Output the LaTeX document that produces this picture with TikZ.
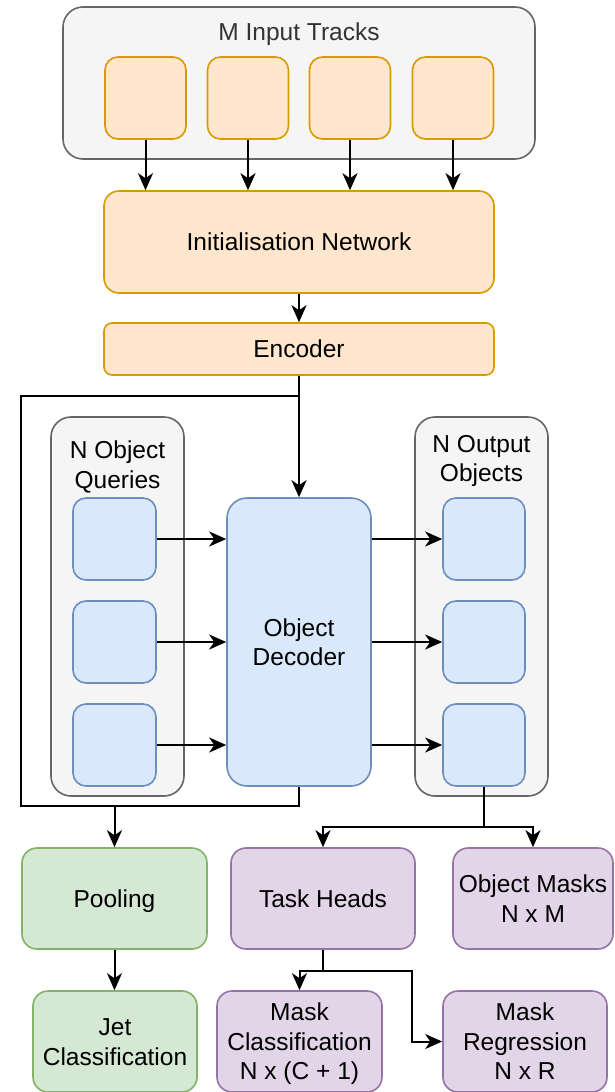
\documentclass[tikz,border=0pt]{standalone}
\usepackage{fontspec}
\setmainfont{Liberation Sans}
\usetikzlibrary{arrows.meta,calc}

\definecolor{orangefill}{HTML}{FFE6CC}
\definecolor{orangeline}{HTML}{D79B00}
\definecolor{bluefill}{HTML}{DAE8FC}
\definecolor{blueline}{HTML}{6C8EBF}
\definecolor{greenfill}{HTML}{D5E8D4}
\definecolor{greenline}{HTML}{82B366}
\definecolor{purplefill}{HTML}{E1D5E7}
\definecolor{purpleline}{HTML}{9673A6}
\definecolor{greyfill}{HTML}{F5F5F5}
\definecolor{greyline}{HTML}{666666}
\definecolor{greytext}{HTML}{333333}

\tikzset{
  % text box sized so the lines sit evenly about the node centre
  txt/.style={font=\fontsize{24.5}{29.5}\selectfont, align=center, inner sep=0pt,
    text height=24.3pt, text depth=6.5pt},
  twolines/.style={text height=53.8pt, text depth=6.5pt},
  threelines/.style={text height=83.3pt, text depth=6.5pt},
  blk/.style={draw, line width=1.6pt, inner sep=0pt, txt},
  orangebox/.style={blk, fill=orangefill, draw=orangeline},
  bluebox/.style={blk, fill=bluefill, draw=blueline},
  greenbox/.style={blk, fill=greenfill, draw=greenline},
  purplebox/.style={blk, fill=purplefill, draw=purpleline},
  groupbox/.style={blk, fill=greyfill, draw=greyline, rounded corners=20pt},
  sz/.style 2 args={minimum width=#1pt, minimum height=#2pt},
  link/.style={line width=2pt, -{Stealth[length=17pt,width=15pt,inset=5pt]}},
  wire/.style={line width=2pt},
}

\begin{document}
\begin{tikzpicture}[x=1pt,y=-1pt]
\useasboundingbox (0,0) rectangle (614,1092);

% input tracks
\node[groupbox, sz={472}{152}] (tracks) at (299,83) {};
\node[txt, text=greytext] (trackslabel) at (299,32) {M Input Tracks};
\node[orangebox, rounded corners=13pt, sz={81}{82}] (t1) at (145.5,98) {};
\node[orangebox, rounded corners=13pt, sz={81}{82}] (t2) at (248,98) {};
\node[orangebox, rounded corners=13pt, sz={81}{82}] (t3) at (350,98) {};
\node[orangebox, rounded corners=13pt, sz={81}{82}] (t4) at (453,98) {};

\node[orangebox, rounded corners=15pt, sz={390}{102}] (init) at (299,242) {Initialisation Network};
\node[orangebox, rounded corners=8pt, sz={390}{52}] (enc) at (299,349) {Encoder};

% object queries and outputs
\node[groupbox, sz={133}{379}] (queries) at (117.5,606.5) {};
\node[txt, twolines] (querieslabel) at (117.5,464.5) {N Object\\Queries};
\node[bluebox, rounded corners=13pt, sz={83}{82}] (q1) at (114.5,539) {};
\node[bluebox, rounded corners=13pt, sz={83}{82}] (q2) at (114.5,642) {};
\node[bluebox, rounded corners=13pt, sz={83}{82}] (q3) at (114.5,745) {};

\node[bluebox, twolines, rounded corners=20pt, sz={144}{288}] (dec) at (299,642) {Object\\Decoder};

\node[groupbox, sz={133}{379}] (outputs) at (481.5,606.5) {};
\node[txt, twolines] (outputslabel) at (481.5,458) {N Output\\Objects};
\node[bluebox, rounded corners=13pt, sz={82}{82}] (o1) at (484,539) {};
\node[bluebox, rounded corners=13pt, sz={82}{82}] (o2) at (484,642) {};
\node[bluebox, rounded corners=13pt, sz={82}{82}] (o3) at (484,745) {};

% heads
\node[greenbox, rounded corners=15pt, sz={185}{101}] (pool) at (114.5,898.5) {Pooling};
\node[purplebox, rounded corners=15pt, sz={184}{101}] (heads) at (323,898.5) {Task Heads};
\node[purplebox, twolines, rounded corners=15pt, sz={160}{101}] (masks) at (533,898.5) {Object Masks\\N x M};
\node[greenbox, twolines, rounded corners=15pt, sz={164}{101}] (jet) at (115,1041.5) {Jet\\Classification};
\node[purplebox, threelines, rounded corners=15pt, sz={165}{101}] (mcls) at (299.5,1041.5) {Mask\\Classification\\N x (C + 1)};
\node[purplebox, threelines, rounded corners=15pt, sz={164}{101}] (mreg) at (525,1041.5) {Mask\\Regression\\N x R};

% routing points
\coordinate (bypasstop) at (21,396);
\coordinate (bypassbot) at (21,806);
\coordinate (split) at (0,827);
\coordinate (headsplit) at (0,971);
\coordinate (regturn) at (412,0);

% connectors
\foreach \t in {t1,t2,t3,t4}
  \draw[link] (\t.south) -- (\t.south |- init.north);
\draw[link] (init) -- (enc);
\draw[link] (enc.south) -- (dec.north);
\draw[link] (enc.south) -- (enc.south |- bypasstop) -- (bypasstop) -- (bypassbot)
  -- (pool.north |- bypassbot) -- (pool.north);
\draw[wire] (dec.south) -- (dec.south |- bypassbot) -- (pool.north |- bypassbot);

\foreach \i in {1,2,3} {
  \draw[link] (q\i.east) -- (q\i.east -| dec.west);
  \draw[link] (o\i.west -| dec.east) -- (o\i.west);
}

\draw[link] (o3.south) -- (o3.south |- split) -| (heads.north);
\draw[link] (o3.south |- split) -| (masks.north);

\draw[link] (pool.south) -- (pool.south |- jet.north);
\draw[link] (heads.south) -- (heads.south |- headsplit) -| (mcls.north);
\draw[link] (heads.south |- headsplit) -| (regturn |- mreg.west) -- (mreg.west);
\end{tikzpicture}
\end{document}
